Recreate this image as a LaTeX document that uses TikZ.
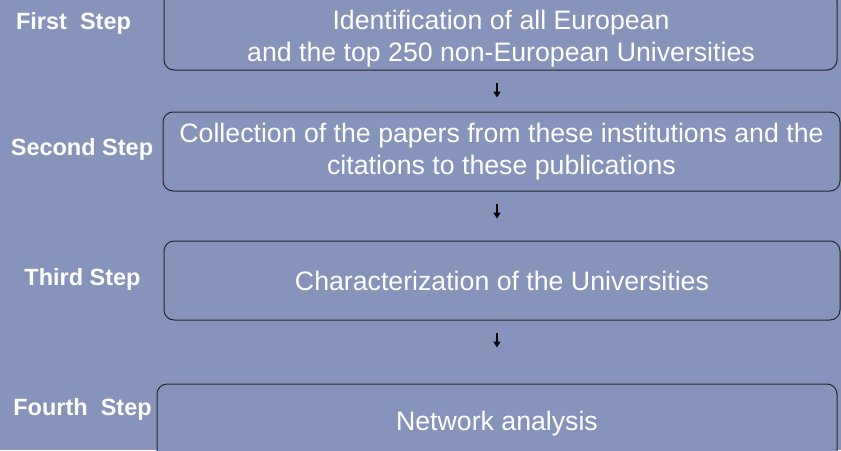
\documentclass[tikz,border=0pt]{standalone}
\usepackage{fontspec}
\setmainfont{Liberation Sans}
\usetikzlibrary{positioning,arrows.meta}
\definecolor{slideblue}{RGB}{134,147,187}

\begin{document}
\begin{tikzpicture}[
    x=1pt, y=1pt,
    boxtext/.style={
        align=center,
        text=white,
        font=\fontsize{26.7}{32.5}\selectfont
    },
    stepbox/.style={
        rectangle,
        rounded corners=10pt,
        draw=black!85,
        line width=1pt,
        fill=slideblue,
        minimum height=79pt,
        boxtext
    },
    steplabel/.style={
        anchor=base,
        text=white,
        font=\fontsize{23.5}{28}\selectfont\bfseries
    },
    arrow/.style={
        -{Triangle[width=7pt,length=6pt]},
        line width=1.4pt,
        draw=black,
        shorten <=12pt
    }
]

% Slide background
\fill[slideblue] (0,0) rectangle (841,-450);
\useasboundingbox (0,0) rectangle (841,-450);

% Step boxes
\node[stepbox, minimum width=673pt] (box1) at (500.5,-30.5) {};
\node[boxtext] (txt1) at (501,-38.5) {Identification of all European\\and the top 250 non-European Universities};

\node[stepbox, minimum width=677pt] (box2) at (501.5,-151.5) {Collection of the papers from these institutions and the\\citations to these publications};

\node[stepbox, minimum width=676pt] (box3) at (502,-280.5) {Characterization of the Universities};

\node[stepbox, minimum width=680pt] (box4) at (497,-423.5) {Network analysis};

% Step labels on the left
\node[steplabel] (lab1) at (73.5,-29) {First\ \ Step};
\node[steplabel] (lab2) at (82,-155) {Second Step};
\node[steplabel] (lab3) at (82.5,-285) {Third Step};
\node[steplabel] (lab4) at (82.5,-415) {Fourth\ \ Step};

% Small arrows between the boxes
\coordinate (arrx) at (497,0);
\draw[arrow] (box1.south -| arrx) -- ++(0,-27);
\draw[arrow] (box2.south -| arrx) -- ++(0,-27);
\draw[arrow] (box3.south -| arrx) -- ++(0,-27);

\end{tikzpicture}
\end{document}
